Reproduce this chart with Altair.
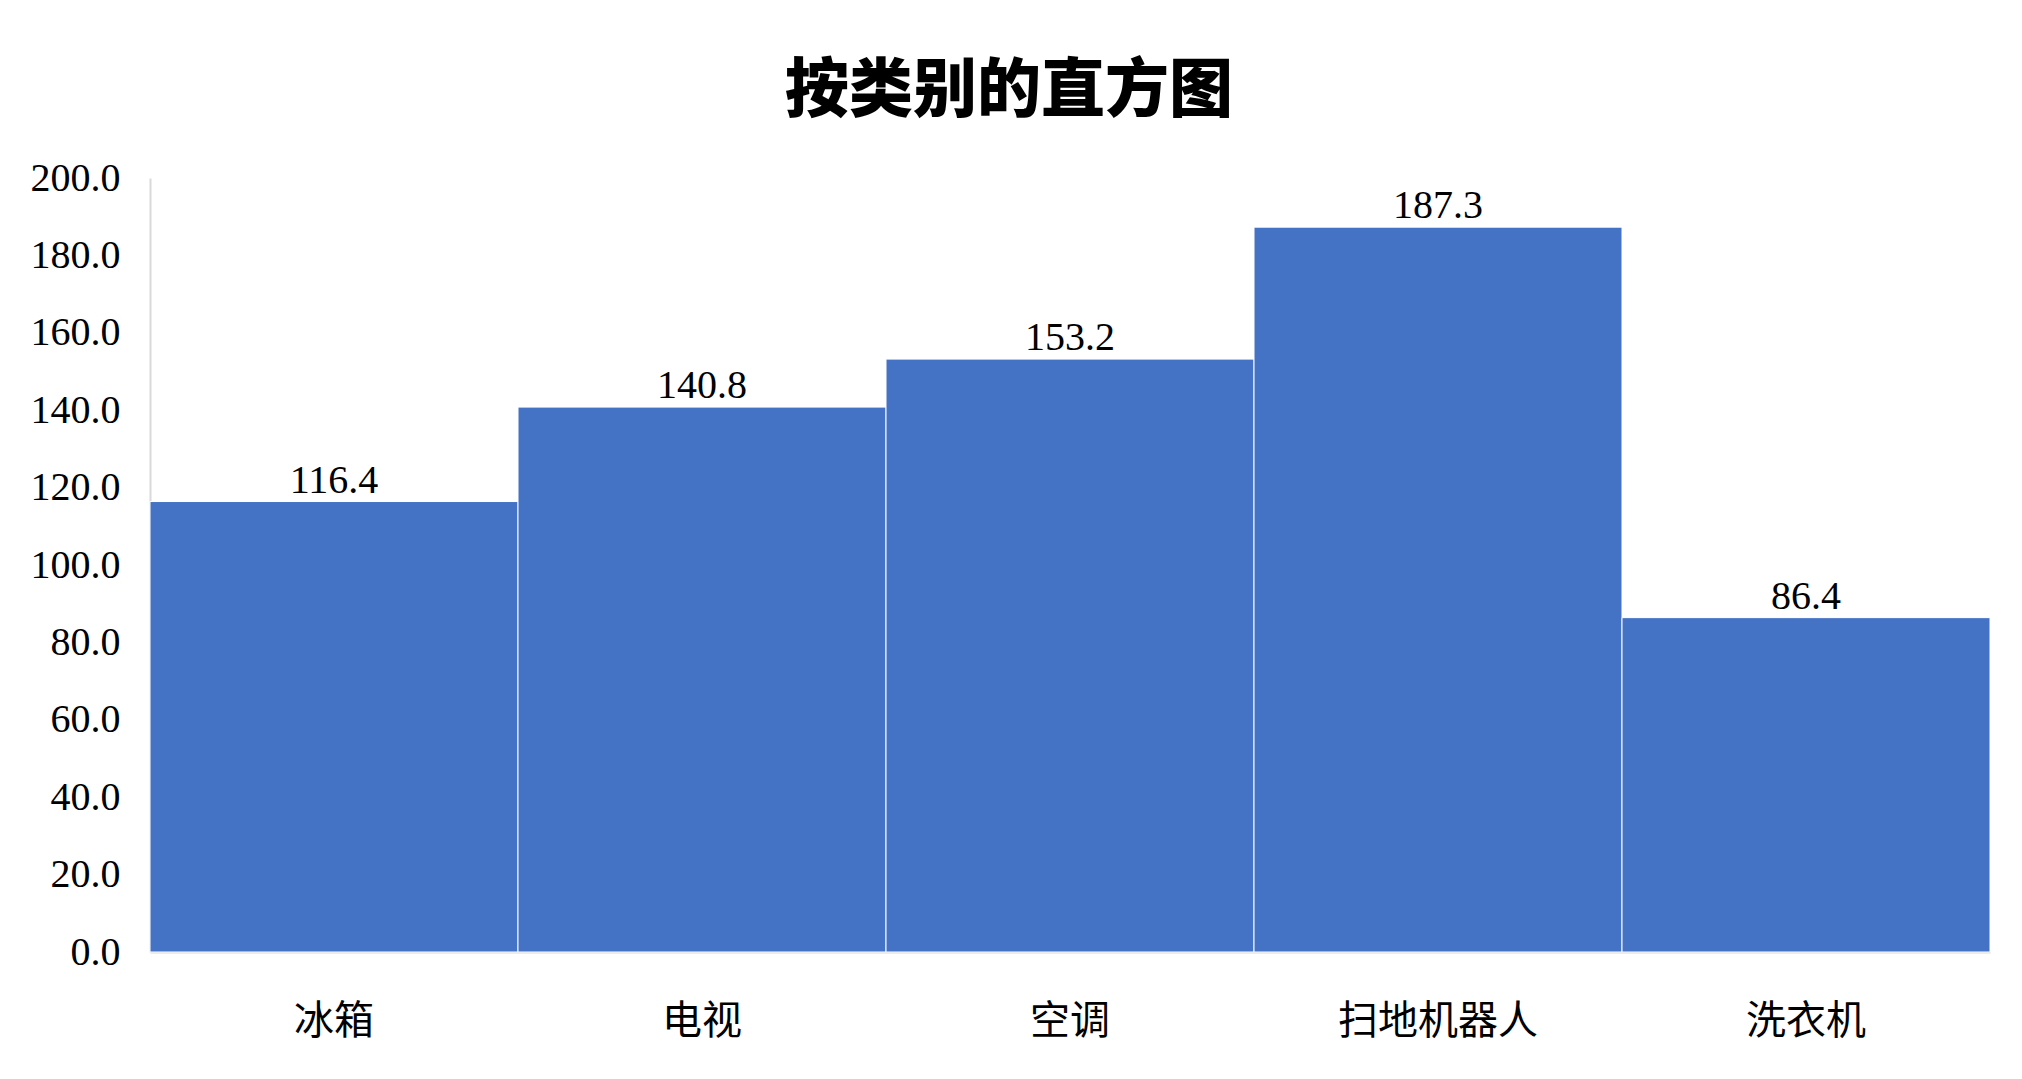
import altair as alt
import pandas as pd

categories = ["冰箱", "电视", "空调", "扫地机器人", "洗衣机"]
values = [116.4, 140.8, 153.2, 187.3, 86.4]

df = pd.DataFrame({"类别": categories, "数值": values})

x = alt.X("类别:N", sort=categories, title=None,
          scale=alt.Scale(paddingInner=0, paddingOuter=0),
          axis=alt.Axis(labelAngle=0, labelFont="Noto Sans CJK SC", labelFontSize=40,
                        labelColor="#000000", labelPadding=49, labelLimit=0, ticks=False,
                        domainColor="#d9d9d9", domainWidth=2))
y = alt.Y("数值:Q", title=None,
          scale=alt.Scale(domain=[0, 200], nice=False),
          axis=alt.Axis(values=list(range(0, 201, 20)), format=".1f",
                        labelFont="Liberation Serif", labelFontSize=40,
                        labelColor="#000000", labelPadding=30, ticks=False, grid=False,
                        domainColor="#d9d9d9", domainWidth=2))

base = alt.Chart(df)
bars = base.mark_bar(color="#4472C4", stroke="#ffffff", strokeWidth=1).encode(x=x, y=y)
labels = base.mark_text(font="Liberation Serif", fontSize=40, color="#000000",
                        baseline="alphabetic", dy=-9).encode(
    x=alt.X("类别:N", sort=categories),
    y=alt.Y("数值:Q"),
    text=alt.Text("数值:Q", format=".1f"))

chart = (bars + labels).properties(
    width=1840, height=774,
    title=alt.Title("按类别的直方图", font="Noto Sans CJK SC", fontSize=64,
                    fontWeight=900, color="#000000", offset=34, dx=-61),
    autosize=alt.AutoSizeParams(type="none"),
    padding={"left": 142, "top": 170, "right": 24, "bottom": 119},
).configure_view(stroke=None)

chart.save("out.html", embed_options={"renderer": "svg", "actions": False})
